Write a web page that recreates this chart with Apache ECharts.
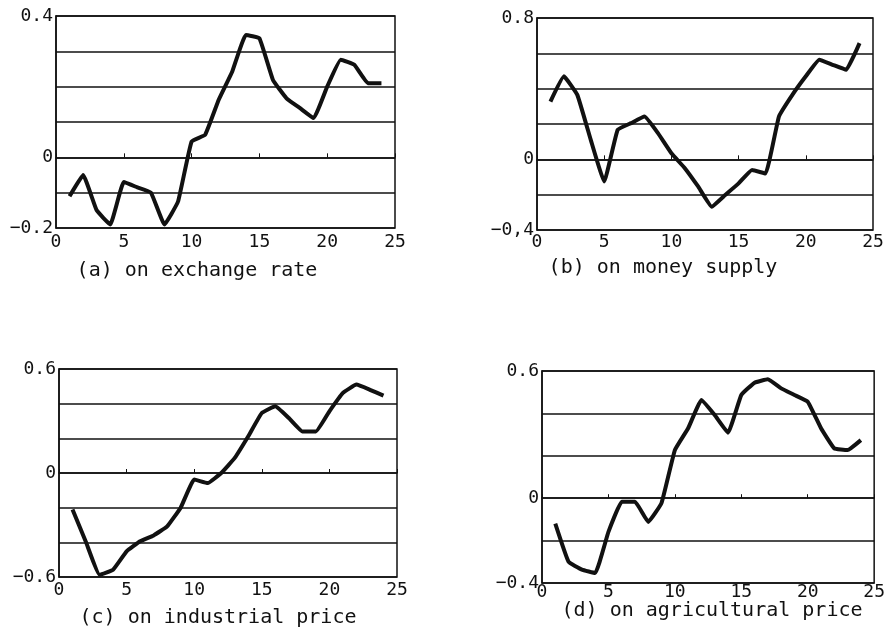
<!DOCTYPE html>
<html>
<head>
<meta charset="utf-8">
<script src="https://cdn.jsdelivr.net/npm/echarts@6/dist/echarts.min.js"></script>
<style>
  html, body { margin: 0; padding: 0; background: #fff; }
  #chart { width: 888px; height: 629px; }
</style>
</head>
<body>
<div id="chart"></div>
<script>
// horizon (x axis)
const months = [1, 2, 3, 4, 5, 6, 7, 8, 9, 10, 11, 12, 13, 14, 15, 16, 17, 18, 19, 20, 21, 22, 23, 24]
const xTicks = [0, 5, 10, 15, 20, 25]

// responses
const exchangeRate = [-0.11, -0.05, -0.15, -0.19, -0.07, -0.085, -0.10, -0.19, -0.125, 0.045, 0.064, 0.163,
  0.243, 0.346, 0.337, 0.219, 0.167, 0.139, 0.111, 0.20, 0.276, 0.262, 0.21, 0.21]
const moneySupply = [0.327, 0.47, 0.365, 0.11, -0.126, 0.167, 0.205, 0.242, 0.148, 0.034, -0.05, -0.155,
  -0.268, -0.202, -0.136, -0.06, -0.08, 0.242, 0.365, 0.47, 0.564, 0.535, 0.507, 0.658]
const industrialPrice = [-0.21, -0.40, -0.587, -0.558, -0.452, -0.394, -0.36, -0.308, -0.20, -0.038, -0.058, 0.0,
  0.087, 0.212, 0.346, 0.385, 0.317, 0.24, 0.24, 0.356, 0.462, 0.51, 0.48, 0.446]
const agriculturalPrice = [-0.12, -0.30, -0.337, -0.353, -0.159, -0.017, -0.017, -0.112, -0.022, 0.227, 0.33, 0.463,
  0.392, 0.309, 0.487, 0.545, 0.561, 0.518, 0.487, 0.455, 0.33, 0.235, 0.227, 0.274]

// y axis range, step and the ticks that get a label
const yA = { min: -0.2, max: 0.4, step: 0.1, labels: ['0.4', '0', '-0.2'] }
const yB = { min: -0.4, max: 0.8, step: 0.2, labels: ['0.8', '0', '-0,4'] }
const yC = { min: -0.6, max: 0.6, step: 0.2, labels: ['0.6', '0', '-0.6'] }
const yD = { min: -0.4, max: 0.6, step: 0.2, labels: ['0.6', '0', '-0.4'] }

const captions = ['(a) on exchange rate', '(b) on money supply', '(c) on industrial price', '(d) on agricultural price']

const FONT = 'DejaVu Sans Mono'

const panels = [
  { values: exchangeRate, y: yA, grid: { left: 56, top: 16, width: 339, height: 212 }, cap: [197, 271], xm: 5 },
  { values: moneySupply, y: yB, grid: { left: 537, top: 18, width: 336, height: 212 }, cap: [663, 268], xm: 3 },
  { values: industrialPrice, y: yC, grid: { left: 59, top: 369, width: 338, height: 208 }, cap: [218, 618], xm: 4 },
  { values: agriculturalPrice, y: yD, grid: { left: 542, top: 371, width: 343, height: 212 }, cap: [712, 611], xm: 0 }
]

function yLabel(y) {
  return function(v) {
    if (Math.abs(v - y.max) < 1e-9) return y.labels[0].replace('-', '\u2212')
    if (Math.abs(v) < 1e-9) return y.labels[1]
    if (Math.abs(v - y.min) < 1e-9) return y.labels[2].replace('-', '\u2212')
    return ''
  }
}

const chart = echarts.init(document.getElementById('chart'))

chart.setOption({
  backgroundColor: '#fff',
  animation: false,
  grid: panels.map(p => Object.assign({
    show: true,
    borderColor: '#111',
    borderWidth: 1.5,
    backgroundColor: 'transparent',
    containLabel: false
  }, p.grid)),
  xAxis: panels.map((p, i) => ({
    type: 'value',
    gridIndex: i,
    min: xTicks[0],
    max: xTicks[xTicks.length - 1],
    interval: 5,
    axisLine: { show: true, lineStyle: { color: '#111', width: 1.5 } },
    axisTick: { show: true, inside: true, length: 4, lineStyle: { color: '#111' } },
    axisLabel: { color: '#111', fontFamily: FONT, fontSize: 18, margin: p.xm },
    splitLine: { show: false }
  })),
  yAxis: panels.map((p, i) => ({
    type: 'value',
    gridIndex: i,
    min: p.y.min,
    max: p.y.max,
    interval: p.y.step,
    axisLine: { show: true, lineStyle: { color: '#111', width: 1.5 } },
    axisTick: { show: false },
    axisLabel: { color: '#111', fontFamily: FONT, fontSize: 18, margin: 3, formatter: yLabel(p.y) },
    splitLine: { show: true, lineStyle: { color: '#111', width: 1.6 } }
  })),
  series: panels.map((p, i) => ({
    type: 'line',
    xAxisIndex: i,
    yAxisIndex: i,
    data: months.map((m, k) => [m, p.values[k]]),
    symbol: 'none',
    smooth: 0.1,
    lineStyle: { color: '#111', width: 4 }
  })),
  graphic: panels.map((p, i) => ({
    type: 'text',
    x: p.cap[0],
    y: p.cap[1],
    style: {
      text: captions[i],
      fill: '#111',
      font: '20px "' + FONT + '"',
      textAlign: 'center',
      textVerticalAlign: 'middle'
    }
  }))
})
</script>
</body>
</html>
